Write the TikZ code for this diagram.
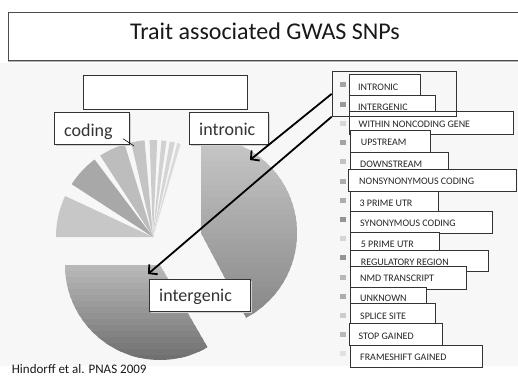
\documentclass[tikz,border=0pt]{standalone}
\usepackage{fontspec}
\setmainfont{Carlito}
\usetikzlibrary{arrows.meta}
\begin{document}
\begin{tikzpicture}[x=1pt,y=-1pt,
  boxline/.style={draw=black!80, line width=0.7pt},
  itembox/.style={boxline, fill=white},
  itemtext/.style={anchor=base west, inner sep=0pt, font=\fontsize{10}{12}\selectfont, text=black!85},
  labelbox/.style={boxline, fill=white, anchor=north west, inner sep=0pt},
  labeltext/.style={anchor=base west, inner sep=0pt, font=\fontsize{18}{22}\selectfont, text=black!80},
  shadowfill/.style={fill=black!18},
  arrowline/.style={line width=1.8pt, -{Straight Barb[length=6pt,width=13pt,line width=1.8pt]}},
]
\useasboundingbox (0,0) rectangle (518,377);
\fill[black!3] (0,63) rectangle (518,366);

% title
\fill[black!30] (8,60) rectangle (518,62.5);
\fill[white] (8,12) rectangle (518,60);
\draw[draw=black!70, line width=0.7pt] (518,12) -- (8,12) -- (8,60) -- (518,60);
\node[anchor=base, inner sep=0pt, font=\fontsize{24}{28}\selectfont, text=black!90] (title) at (265,40) {Trait associated GWAS SNPs};

% pie: intronic (banded gradient)
\begin{scope}
  \clip (201,233) -- plot[domain=-90:62, samples=60] ({201+96*cos(\x)},{233+96*sin(\x)}) -- cycle;
  \foreach \k in {0,...,31}{
    \pgfmathsetmacro\g{22+26*\k/31}
    \fill[black!\g] (195,{137+6*\k}) rectangle (300,{137+6*\k+9});
  }
\end{scope}
% pie: intergenic
\begin{scope}
  \clip (160,265) -- plot[domain=60:180, samples=60] ({160+95*cos(\x)},{265+95*sin(\x)}) -- cycle;
  \foreach \k in {0,...,15}{
    \pgfmathsetmacro\g{28+28*\k/15}
    \fill[black!\g] (60,{265+6*\k}) rectangle (260,{265+6*\k+9});
  }
\end{scope}
% pie: small slices
\foreach \a/\b/\c in {180/205/22, 213/233/34, 237/253/26, 257/265/23, 268/272.5/20, 275/278/18, 280/283/17, 284.5/286.5/15}{
  \fill[black!\c] (153,237) -- plot[domain=\a:\b, samples=20] ({153+97*cos(\x)},{237+97*sin(\x)}) -- cycle;
}

% empty box
\node[labelbox, minimum width=163.7pt, minimum height=34.6pt] (emptybox) at (83,74.7) {};

% label boxes
\fill[shadowfill] (56,114.3) rectangle (131.3,146);
\node[labelbox, minimum width=75.3pt, minimum height=31.7pt] (coding) at (54,112.3) {};
\node[labeltext] (codingtext) at (64,136.3) {coding};
\coordinate (codingtip) at (134,146);
\draw[black, line width=0.6pt] ([shift={(-7,-6)}]coding.south east) -- (codingtip);

\fill[shadowfill] (191,114.3) rectangle (270.3,146);
\node[labelbox, minimum width=79.3pt, minimum height=31.7pt] (intronic) at (189,112.3) {};
\node[labeltext] (intronictext) at (199,135.8) {intronic};

\fill[shadowfill] (151,281) rectangle (252,312.7);
\node[labelbox, minimum width=101pt, minimum height=31.7pt] (intergenic) at (149,279) {};
\node[labeltext] (intergenictext) at (159,301.7) {intergenic};

% legend markers
\foreach \m [count=\i] in {36,40,16,36,24,32,32,42,16,42,28,32,20,28,12}{
  \fill[black!\m] (340,{85+19.2*(\i-1)-2.5}) rectangle (346,{85+19.2*(\i-1)+2.5});
}

% legend items
\foreach \l/\t/\r/\b/\tx/\by/\txt [count=\i] in {
  349/74.3/420/95/358/90/INTRONIC,
  349/95/435.7/114/358/110.8/INTERGENIC,
  349/111.7/513.3/134/358.5/127.6/WITHIN NONCODING GENE,
  350.7/130.7/430/152.7/360.7/145.5/UPSTREAM,
  350/152.7/448.3/171/360/167.6/DOWNSTREAM,
  348.3/169.3/516/191.7/359/184.2/NONSYNONYMOUS CODING,
  350/191/438.3/212/359.3/206/3 PRIME UTR,
  350/211/492.3/233.3/360/226/SYNONYMOUS CODING,
  350.7/232.3/439/251/360.7/247.6/5 PRIME UTR,
  350.7/250/488.3/271.7/360.7/265/REGULATORY REGION,
  350/266.7/466/289.3/360/281.6/NMD TRANSCRIPT,
  350/287.3/426.7/304/360/301.6/UNKNOWN,
  350.7/303.3/435/324.5/360/319/SPLICE SITE,
  349/323.3/442.3/345/358.3/339/STOP GAINED,
  350/345/482.7/367.3/360/360/FRAMESHIFT GAINED}{
  \draw[itembox] (\l,\t) rectangle (\r,\b);
  \node[itemtext] (item\i) at (\tx,\by) {\txt};
}

% legend outline
\node[draw=black!80, line width=0.7pt, anchor=north west, minimum width=124pt, minimum height=45pt, inner sep=0pt] (legend) at (331.7,71) {};

% arrows
\coordinate (tipintronic) at (250,160);
\coordinate (tipintergenic) at (148,274);
\draw[arrowline] (legend.west) -- (tipintronic);
\draw[arrowline] (legend.south west) -- (tipintergenic);

% source
\node[anchor=base west, inner sep=0pt, font=\fontsize{13}{15}\selectfont, text=black!90] (source) at (11.7,373.5) {Hindorff et al. PNAS 2009};
\end{tikzpicture}
\end{document}
